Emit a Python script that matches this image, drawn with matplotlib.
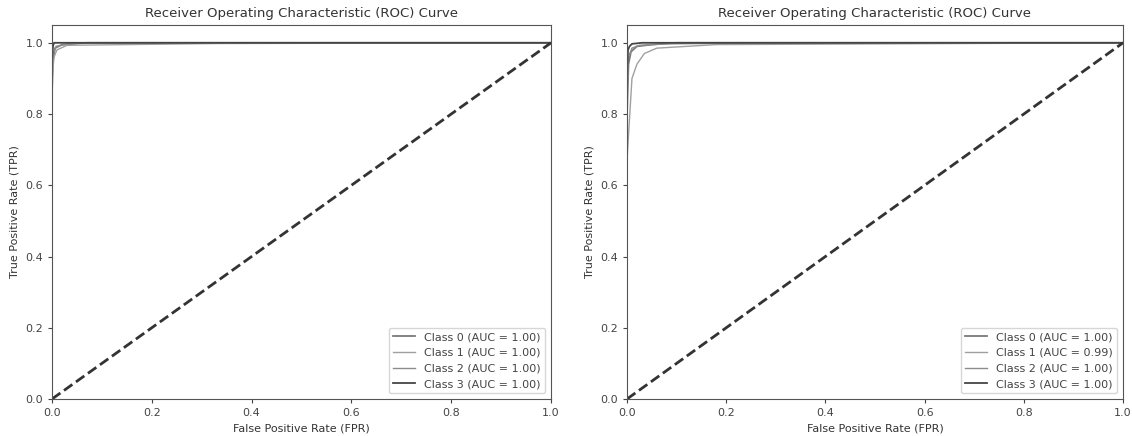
import matplotlib
matplotlib.use("Agg")
import matplotlib.pyplot as plt

# Left panel ROC points (FPR, TPR) per class
left_fpr = [
    [0.0, 0.0, 0.002, 0.006, 0.02, 0.07, 1.0],
    [0.0, 0.0, 0.004, 0.01, 0.03, 0.33, 1.0],
    [0.0, 0.0, 0.003, 0.008, 0.03, 0.06, 1.0],
    [0.0, 0.0, 0.002, 0.004, 0.01, 0.02, 1.0],
]
left_tpr = [
    [0.0, 0.86, 0.95, 0.985, 0.995, 1.0, 1.0],
    [0.0, 0.90, 0.96, 0.98, 0.993, 0.998, 1.0],
    [0.0, 0.92, 0.97, 0.99, 0.996, 1.0, 1.0],
    [0.0, 0.95, 0.99, 1.0, 1.0, 1.0, 1.0],
]
left_auc = [1.00, 1.00, 1.00, 1.00]

# Right panel ROC points
right_fpr = [
    [0.0, 0.0, 0.003, 0.008, 0.02, 0.05, 0.1, 1.0],
    [0.0, 0.0, 0.01, 0.02, 0.035, 0.06, 0.18, 1.0],
    [0.0, 0.0, 0.003, 0.01, 0.025, 0.08, 0.24, 1.0],
    [0.0, 0.0, 0.002, 0.005, 0.01, 0.03, 0.06, 1.0],
]
right_tpr = [
    [0.0, 0.80, 0.94, 0.975, 0.99, 0.995, 1.0, 1.0],
    [0.0, 0.67, 0.90, 0.94, 0.97, 0.985, 0.995, 1.0],
    [0.0, 0.85, 0.96, 0.985, 0.993, 0.997, 0.999, 1.0],
    [0.0, 0.90, 0.98, 0.99, 0.997, 1.0, 1.0, 1.0],
]
right_auc = [1.00, 0.99, 1.00, 1.00]

classes = [0, 1, 2, 3]
colors = ['#7a7a7a', '#a0a0a0', '#8c8c8c', '#454545']
widths = [1.3, 1.0, 1.0, 1.3]

fig = plt.figure(figsize=(11.33, 4.36), dpi=100)
ax1 = fig.add_axes([52 / 1133, 37 / 436, 499 / 1133, 374 / 436])
ax2 = fig.add_axes([627 / 1133, 37 / 436, 496 / 1133, 374 / 436])

for ax, fprs, tprs, aucs in [(ax1, left_fpr, left_tpr, left_auc),
                             (ax2, right_fpr, right_tpr, right_auc)]:
    for i, c in enumerate(classes):
        ax.plot(fprs[i], tprs[i], color=colors[i], lw=widths[i],
                label=f'Class {c} (AUC = {aucs[i]:.2f})')
    ax.plot([0, 1], [0, 1], '--', lw=2, color='#333333')
    ax.set_xlim(0.0, 1.0)
    ax.set_ylim(0.0, 1.05)
    ax.set_xlabel('False Positive Rate (FPR)', fontsize=8, color='#333333')
    ax.set_ylabel('True Positive Rate (TPR)', fontsize=8, color='#333333')
    ax.set_title('Receiver Operating Characteristic (ROC) Curve', fontsize=9.5, color='#333333')
    ax.tick_params(labelsize=8, colors='#444444', length=3)
    for s in ax.spines.values():
        s.set_color('#555555')
    ax.legend(loc='lower right', fontsize=8, labelcolor='#444444')

fig.savefig('out.png', dpi=100)
